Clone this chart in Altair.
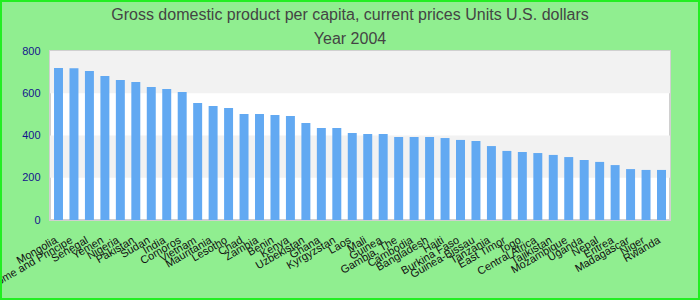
import altair as alt
import pandas as pd

countries = ["Mongolia", "Sao Tome and Principe", "Senegal", "Yemen", "Nigeria", "Pakistan",
             "Sudan", "India", "Comoros", "Vietnam", "Mauritania", "Lesotho", "Chad", "Zambia",
             "Benin", "Kenya", "Uzbekistan", "Ghana", "Kyrgyzstan", "Laos", "Mali", "Guinea",
             "Gambia, The", "Cambodia", "Bangladesh", "Haiti", "Burkina Faso", "Guinea-Bissau",
             "Tanzania", "East Timor", "Togo", "Central Africa", "Tajikistan", "Mozambique",
             "Uganda", "Nepal", "Eritrea", "Madagascar", "Niger", "Rwanda"]
gdp = [719, 718, 705, 682, 663, 653, 630, 620, 606, 554, 540, 530, 502, 502,
       497, 492, 459, 435, 435, 412, 407, 407, 393, 393, 393, 388, 379, 374,
       350, 327, 322, 317, 308, 298, 284, 275, 260, 241, 237, 237]

band_lo = [200, 600]
band_hi = [400, 800]
y_ticks = [0, 200, 400, 600, 800]
title_lines = ["Gross domestic product per capita, current prices Units U.S. dollars", "Year 2004"]

df = pd.DataFrame({"country": countries, "gdp": gdp})
bands = pd.DataFrame({"lo": band_lo, "hi": band_hi})

y_scale = alt.Scale(domain=[0, 800], nice=False)
y_axis = alt.Axis(title=None, values=y_ticks, grid=False, ticks=False, domain=False,
                  labelColor="#14148c", labelFontSize=11, labelFont="Liberation Sans",
                  labelPadding=10)

band_layer = alt.Chart(bands).mark_rect(color="#f2f2f2").encode(
    y=alt.Y("lo:Q", scale=y_scale, axis=y_axis, title=None),
    y2="hi:Q",
    x=alt.value(0),
    x2=alt.value(620),
)

bars = alt.Chart(df).mark_bar(color="#62a9f2").encode(
    x=alt.X("country:N", sort=None,
            scale=alt.Scale(paddingInner=0.42, paddingOuter=0.26),
            axis=alt.Axis(title=None, labelAngle=-30, labelFontSize=11, labelColor="#111111",
                          labelFont="Liberation Sans", ticks=False, domain=False,
                          labelPadding=14, labelOffset=-5, labelOverlap=False, labelLimit=0)),
    y=alt.Y("gdp:Q", scale=y_scale, axis=y_axis, title=None),
)


def title_text(line, ypix):
    return alt.Chart(pd.DataFrame({"text": [line]})).mark_text(
        fontSize=16, color="#444444", font="Liberation Sans Narrow, Liberation Sans",
        align="center", baseline="alphabetic", clip=False
    ).encode(text="text:N", x=alt.value(300), y=alt.value(ypix))


title1 = title_text(title_lines[0], -31)
title2 = title_text(title_lines[1], -7)

border = alt.Chart(pd.DataFrame({"a": [0]})).mark_rect(
    fill=None, stroke="#22ee22", strokeWidth=2, clip=False
).encode(
    x=alt.value(-49), x2=alt.value(649), y=alt.value(-50), y2=alt.value(248)
)

chart = alt.layer(band_layer, bars, title1, title2, border).properties(
    width=620, height=169,
    background="#90ee90",
    padding={"left": 50, "top": 51, "right": 30, "bottom": 80},
    autosize=alt.AutoSizeParams(type="none"),
).configure_view(fill="white", stroke="#d0d0d0", strokeWidth=2)

chart.save("out.html", embed_options={"renderer": "svg", "actions": False})
